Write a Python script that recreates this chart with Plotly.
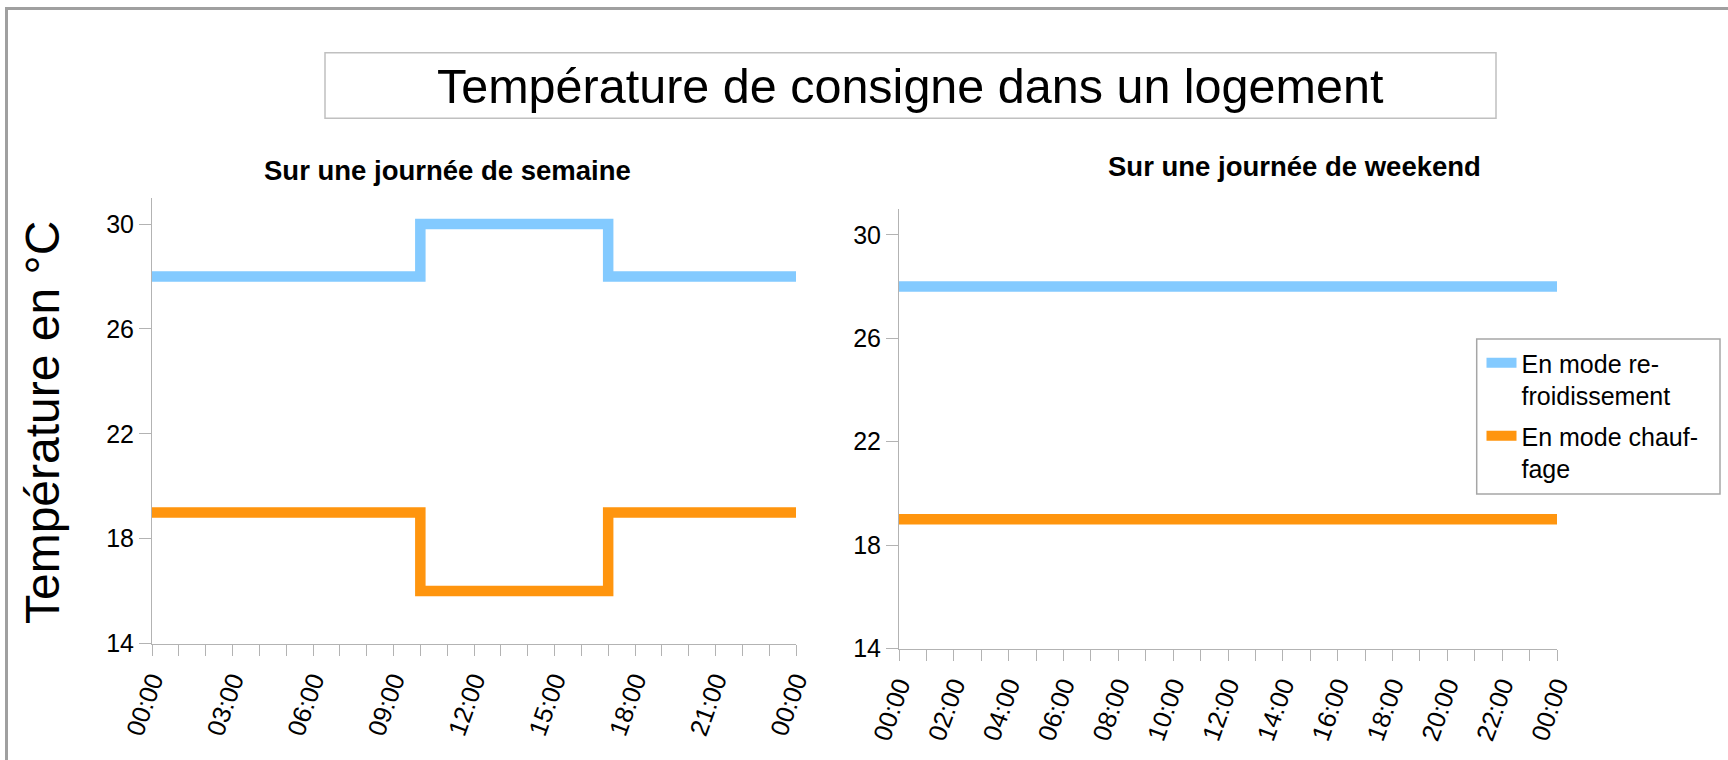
import plotly.graph_objects as go

W, H = 1728, 760

# ---- data ----
hours_weekday = [0, 10, 17, 24]
cool_weekday = [28, 30, 28, 28]
heat_weekday = [19, 16, 19, 19]

hours_weekend = [0, 24]
cool_weekend = [28, 28]
heat_weekend = [19, 19]

ytick_vals = [14, 18, 22, 26, 30]
weekday_tick_hours = [0, 3, 6, 9, 12, 15, 18, 21, 24]
weekday_tick_labels = ["00:00", "03:00", "06:00", "09:00", "12:00", "15:00", "18:00", "21:00", "00:00"]
weekend_tick_hours = [0, 2, 4, 6, 8, 10, 12, 14, 16, 18, 20, 22, 24]
weekend_tick_labels = ["00:00", "02:00", "04:00", "06:00", "08:00", "10:00", "12:00",
                       "14:00", "16:00", "18:00", "20:00", "22:00", "00:00"]

name_cool = "En mode re-<br>froidissement"
name_heat = "En mode chauf-<br>fage"
title_main = "Température de consigne dans un logement"
title_left = "Sur une journée de semaine"
title_right = "Sur une journée de weekend"
ytitle = "Température en °C"

BLUE = "#83caff"
ORANGE = "#ff950e"
AXIS = "#b3b3b3"
FONT = "Liberation Sans, Arial, sans-serif"


def px(x):
    return x / W


def py(y):
    return 1 - y / H


fig = go.Figure()
fig.add_trace(go.Scatter(x=hours_weekday, y=cool_weekday, mode="lines", line_shape="hv",
                         line=dict(color=BLUE, width=10.5), name=name_cool,
                         legendgroup="c", xaxis="x", yaxis="y"))
fig.add_trace(go.Scatter(x=hours_weekday, y=heat_weekday, mode="lines", line_shape="hv",
                         line=dict(color=ORANGE, width=10.5), name=name_heat,
                         legendgroup="h", xaxis="x", yaxis="y"))
fig.add_trace(go.Scatter(x=hours_weekend, y=cool_weekend, mode="lines",
                         line=dict(color=BLUE, width=10.5), name=name_cool,
                         legendgroup="c", showlegend=False, xaxis="x2", yaxis="y2"))
fig.add_trace(go.Scatter(x=hours_weekend, y=heat_weekend, mode="lines",
                         line=dict(color=ORANGE, width=10.5), name=name_heat,
                         legendgroup="h", showlegend=False, xaxis="x2", yaxis="y2"))

xcommon = dict(range=[0, 24], showline=True, linecolor=AXIS, linewidth=1, ticks="outside",
               ticklen=11, tickcolor=AXIS, tickwidth=1, showgrid=False, zeroline=False,
               tickangle=-70, tickfont=dict(family=FONT, size=25.5, color="black"),
               minor=dict(tickmode="linear", tick0=0, dtick=1, ticks="outside", ticklen=11,
                          tickcolor=AXIS, tickwidth=1, showgrid=False),
               automargin=False, fixedrange=True)
ycommon = dict(range=[14, 31], showline=True, linecolor=AXIS, linewidth=1, ticks="outside",
               ticklen=12, tickcolor=AXIS, tickwidth=1, showgrid=False, zeroline=False,
               tickmode="array", tickvals=ytick_vals,
               tickfont=dict(family=FONT, size=25, color="black"),
               automargin=False, fixedrange=True)

fig.update_layout(
    width=W, height=H,
    margin=dict(l=0, r=0, t=0, b=0, autoexpand=False),
    paper_bgcolor="white", plot_bgcolor="white",
    font=dict(family=FONT, color="black"),
    xaxis=dict(xcommon, domain=[px(152), px(796)], anchor="y",
               tickmode="array", tickvals=weekday_tick_hours, ticktext=weekday_tick_labels),
    yaxis=dict(ycommon, domain=[py(643.5), py(197.8)], anchor="x"),
    xaxis2=dict(xcommon, domain=[px(899), px(1557)], anchor="y2",
                tickmode="array", tickvals=weekend_tick_hours, ticktext=weekend_tick_labels),
    yaxis2=dict(ycommon, domain=[py(648.5), py(208.9)], anchor="x2"),
    legend=dict(x=px(1481.5), y=py(340), xanchor="left", yanchor="top",
                bgcolor="rgba(0,0,0,0)", borderwidth=0,
                font=dict(family=FONT, size=25, color="black"), valign="top",
                tracegroupgap=5, itemwidth=30),
    showlegend=True,
    shapes=[
        dict(type="rect", xref="paper", yref="paper", x0=px(6.5), y0=py(8.5), x1=px(1800), y1=py(820),
             line=dict(color="#a0a0a0", width=3), fillcolor="rgba(0,0,0,0)", layer="below"),
        dict(type="rect", xref="paper", yref="paper", x0=px(325), y0=py(52.7), x1=px(1496), y1=py(118.3),
             line=dict(color="#c0c0c0", width=1.5), fillcolor="rgba(0,0,0,0)", layer="below"),
        dict(type="rect", xref="paper", yref="paper", x0=px(1476.7), y0=py(339), x1=px(1720), y1=py(494),
             line=dict(color="#a6a6a6", width=1.5), fillcolor="white", layer="above"),
    ],
    annotations=[
        dict(text=title_main, xref="paper", yref="paper", x=px(910.5), y=py(85.5),
             xanchor="center", yanchor="middle", showarrow=False,
             font=dict(family=FONT, size=48.5, color="black")),
        dict(text=title_left, xref="paper", yref="paper", x=px(447.5), y=py(171),
             xanchor="center", yanchor="middle", showarrow=False,
             font=dict(family=FONT, size=27.5, color="black", weight="bold")),
        dict(text=title_right, xref="paper", yref="paper", x=px(1294), y=py(166.5),
             xanchor="center", yanchor="middle", showarrow=False,
             font=dict(family=FONT, size=27.5, color="black", weight="bold")),
        dict(text=ytitle, xref="paper", yref="paper", x=px(42), y=py(423),
             xanchor="center", yanchor="middle", showarrow=False, textangle=-90,
             font=dict(family=FONT, size=48, color="black")),
    ],
)

fig.write_html("out.html", config={"displayModeBar": False},
               post_script="document.body.style.margin='0';document.body.style.overflow='hidden';")
